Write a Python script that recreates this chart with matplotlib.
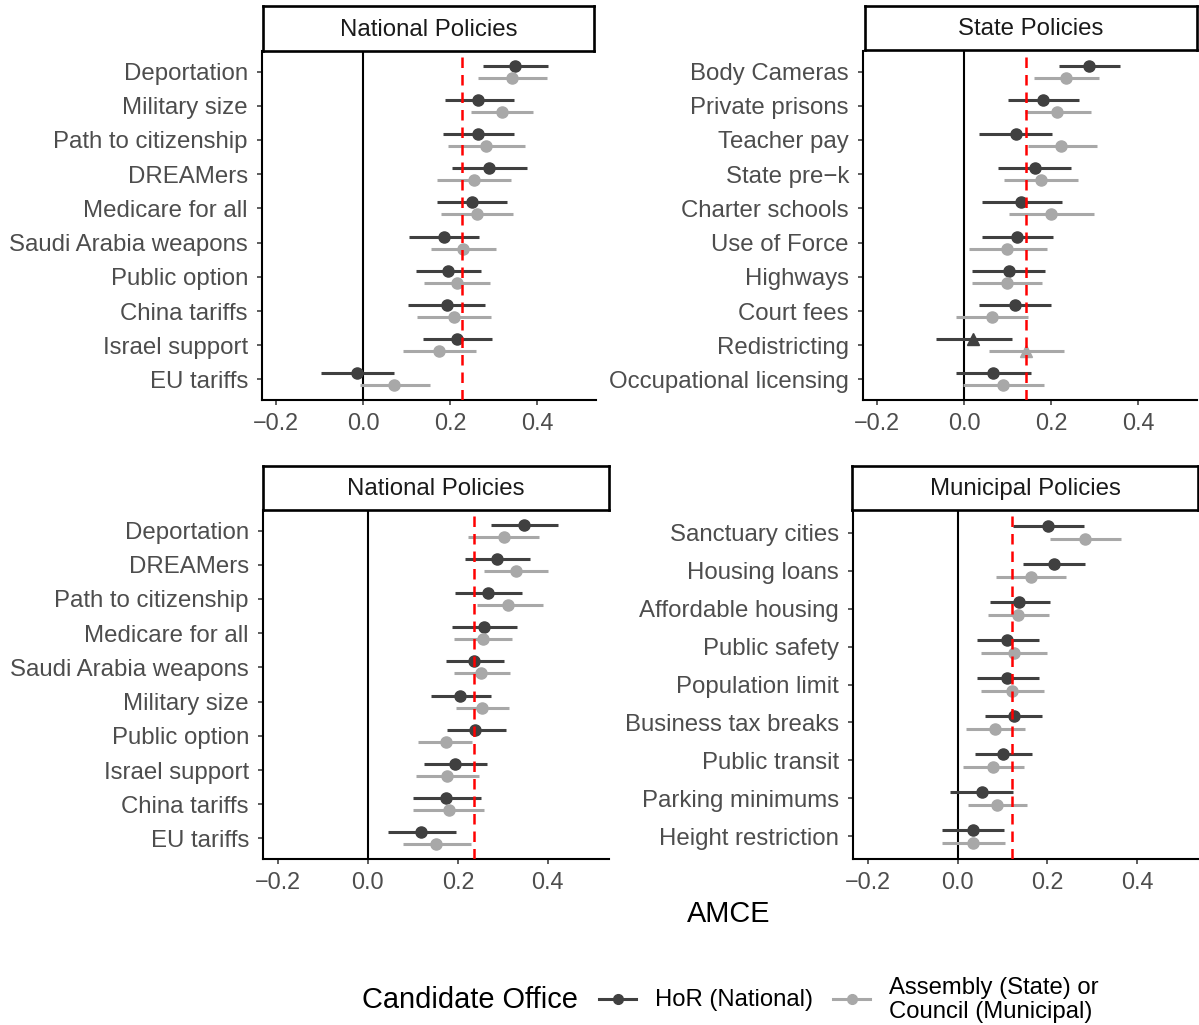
import matplotlib
matplotlib.use("Agg")
import matplotlib.pyplot as plt
from matplotlib.lines import Line2D

plt.rcParams['font.family'] = ['Liberation Sans', 'DejaVu Sans']

# ---------------------------------------------------------------- data
# National policies (experiment 1)
nat1_items = ["Deportation", "Military size", "Path to citizenship", "DREAMers",
              "Medicare for all", "Saudi Arabia weapons", "Public option",
              "China tariffs", "Israel support", "EU tariffs"]
nat1_hor = [0.349, 0.265, 0.264, 0.290, 0.250, 0.185, 0.195, 0.192, 0.215, -0.015]
nat1_hor_lo = [0.275, 0.188, 0.183, 0.204, 0.169, 0.105, 0.122, 0.102, 0.137, -0.098]
nat1_hor_hi = [0.425, 0.347, 0.347, 0.378, 0.332, 0.267, 0.271, 0.281, 0.296, 0.072]
nat1_sub = [0.342, 0.320, 0.283, 0.255, 0.261, 0.230, 0.215, 0.208, 0.175, 0.072]
nat1_sub_lo = [0.264, 0.249, 0.196, 0.171, 0.180, 0.157, 0.141, 0.125, 0.092, -0.008]
nat1_sub_hi = [0.423, 0.391, 0.372, 0.341, 0.345, 0.305, 0.292, 0.294, 0.260, 0.154]
nat1_ref = 0.227

# State policies
state_items = ["Body Cameras", "Private prisons", "Teacher pay", "State pre\u2212k",
               "Charter schools", "Use of Force", "Highways", "Court fees",
               "Redistricting", "Occupational licensing"]
state_hor = [0.287, 0.181, 0.119, 0.162, 0.131, 0.122, 0.102, 0.116, 0.020, 0.066]
state_hor_lo = [0.219, 0.100, 0.035, 0.077, 0.040, 0.040, 0.019, 0.035, -0.066, -0.019]
state_hor_hi = [0.358, 0.265, 0.203, 0.247, 0.226, 0.205, 0.186, 0.199, 0.109, 0.154]
state_sub = [0.235, 0.214, 0.222, 0.176, 0.200, 0.099, 0.099, 0.063, 0.143, 0.089]
state_sub_lo = [0.161, 0.139, 0.146, 0.091, 0.102, 0.010, 0.019, -0.018, 0.056, -0.002]
state_sub_hi = [0.310, 0.293, 0.305, 0.263, 0.300, 0.190, 0.179, 0.148, 0.229, 0.184]
state_ref = 0.143
state_triangles = ["Redistricting"]

# National policies (experiment 2)
nat2_items = ["Deportation", "DREAMers", "Path to citizenship", "Medicare for all",
              "Saudi Arabia weapons", "Military size", "Public option",
              "Israel support", "China tariffs", "EU tariffs"]
nat2_hor = [0.347, 0.288, 0.266, 0.259, 0.236, 0.205, 0.239, 0.194, 0.174, 0.119]
nat2_hor_lo = [0.273, 0.217, 0.193, 0.186, 0.173, 0.140, 0.175, 0.124, 0.100, 0.044]
nat2_hor_hi = [0.422, 0.360, 0.342, 0.332, 0.302, 0.273, 0.307, 0.265, 0.251, 0.196]
nat2_sub = [0.302, 0.330, 0.311, 0.255, 0.251, 0.254, 0.173, 0.176, 0.180, 0.152]
nat2_sub_lo = [0.223, 0.259, 0.242, 0.192, 0.191, 0.195, 0.111, 0.106, 0.101, 0.078]
nat2_sub_hi = [0.380, 0.401, 0.390, 0.321, 0.315, 0.314, 0.232, 0.246, 0.259, 0.230]
nat2_ref = 0.235

# Municipal policies
muni_items = ["Sanctuary cities", "Housing loans", "Affordable housing",
              "Public safety", "Population limit", "Business tax breaks",
              "Public transit", "Parking minimums", "Height restriction"]
muni_hor = [0.201, 0.215, 0.138, 0.111, 0.111, 0.125, 0.101, 0.055, 0.034]
muni_hor_lo = [0.123, 0.147, 0.072, 0.044, 0.044, 0.061, 0.038, -0.016, -0.035]
muni_hor_hi = [0.281, 0.284, 0.205, 0.182, 0.182, 0.189, 0.166, 0.123, 0.104]
muni_sub = [0.284, 0.163, 0.135, 0.125, 0.122, 0.083, 0.079, 0.088, 0.034]
muni_sub_lo = [0.205, 0.086, 0.067, 0.053, 0.052, 0.019, 0.013, 0.024, -0.035]
muni_sub_hi = [0.364, 0.242, 0.204, 0.199, 0.192, 0.151, 0.148, 0.154, 0.106]
muni_ref = 0.122

x_ticks = [-0.2, 0.0, 0.2, 0.4]
x_tick_labels = ["\u22120.2", "0.0", "0.2", "0.4"]
legend_labels = ["HoR (National)", "Assembly (State) or\nCouncil (Municipal)"]

# ---------------------------------------------------------------- style
W, H = 1199, 1025
DARK = '#404040'
LIGHT = '#a8a8a8'
TICK_GREY = '#4d4d4d'
XLIM = (-0.233, 0.536)
DODGE = 0.175

fig = plt.figure(figsize=(W / 100, H / 100), dpi=100)


def px_axes(x0, y0, x1, y1):
    return fig.add_axes([x0 / W, 1 - y1 / H, (x1 - x0) / W, (y1 - y0) / H])


def strip(box, title):
    sax = px_axes(*box)
    sax.set_xticks([])
    sax.set_yticks([])
    for s in sax.spines.values():
        s.set_linewidth(1.9)
        s.set_color('black')
    sax.text(0.5, 0.47, title, ha='center', va='center', fontsize=17.3,
             color='#1a1a1a', transform=sax.transAxes)


def panel(box, strip_box, title, items, hor, hor_lo, hor_hi,
          sub, sub_lo, sub_hi, ref, triangles=()):
    ax = px_axes(*box)
    n = len(items)
    ypos = [n - i for i in range(n)]
    ax.axvline(0, color='black', lw=1.5, zorder=1)
    for i, name in enumerate(items):
        mk = '^' if name in triangles else 'o'
        ms = 9 if mk == '^' else 8
        yd = ypos[i] + DODGE
        yl = ypos[i] - DODGE
        ax.hlines(yd, hor_lo[i], hor_hi[i], color=DARK, lw=2.2, zorder=3)
        ax.plot([hor[i]], [yd], marker=mk, ms=ms, color=DARK, ls='none', zorder=4)
        ax.hlines(yl, sub_lo[i], sub_hi[i], color=LIGHT, lw=2.2, zorder=3)
        ax.plot([sub[i]], [yl], marker=mk, ms=ms, color=LIGHT, ls='none', zorder=4)
    ax.axvline(ref, color='red', lw=1.8, ls=(0, (4.2, 2.8)), zorder=5)
    ax.set_xlim(*XLIM)
    ax.set_ylim(0.4, n + 0.6)
    ax.set_yticks(ypos)
    ax.set_yticklabels(items)
    ax.set_xticks(x_ticks)
    ax.set_xticklabels(x_tick_labels)
    ax.tick_params(axis='both', labelcolor=TICK_GREY,
                   color='#333333', length=3.6, width=1.1)
    ax.tick_params(axis='y', pad=6.5, labelsize=17.3)
    ax.tick_params(axis='x', pad=5, labelsize=16.8)
    for lab in ax.get_yticklabels():
        lab.set_verticalalignment('center_baseline')
    for side in ('top', 'right'):
        ax.spines[side].set_visible(False)
    for side in ('left', 'bottom'):
        ax.spines[side].set_linewidth(1.5)
        ax.spines[side].set_color('black')
    strip(strip_box, title)
    return ax


panel((262, 51, 596, 400), (263, 6, 594, 51), "National Policies",
      nat1_items, nat1_hor, nat1_hor_lo, nat1_hor_hi,
      nat1_sub, nat1_sub_lo, nat1_sub_hi, nat1_ref)
panel((863, 51, 1197, 400), (865, 6, 1197, 50), "State Policies",
      state_items, state_hor, state_hor_lo, state_hor_hi,
      state_sub, state_sub_lo, state_sub_hi, state_ref, state_triangles)
panel((263, 510, 609, 859), (263, 466, 609, 510), "National Policies",
      nat2_items, nat2_hor, nat2_hor_lo, nat2_hor_hi,
      nat2_sub, nat2_sub_lo, nat2_sub_hi, nat2_ref)
panel((853, 510, 1198, 859), (852, 466, 1198, 510), "Municipal Policies",
      muni_items, muni_hor, muni_hor_lo, muni_hor_hi,
      muni_sub, muni_sub_lo, muni_sub_hi, muni_ref)

# shared x-axis title
fig.text(729 / W, 1 - 914 / H, "AMCE", ha='center', va='center', fontsize=20.8,
         color='black')

# legend along the bottom
ly = 1 - 999 / H
fig.text(362 / W, 1 - 1000 / H, "Candidate Office", ha='left', va='center',
         fontsize=20.9, color='black')
for (x0, x1), col, label, tx in [((599, 636), DARK, legend_labels[0], 655),
                                  ((833, 870), LIGHT, legend_labels[1], 889)]:
    fig.add_artist(Line2D([x0 / W, x1 / W], [ly, ly], color=col, lw=2.2,
                          transform=fig.transFigure))
    fig.add_artist(Line2D([(x0 + x1) / 2 / W], [ly], marker='o', ms=7,
                          color=col, ls='none', transform=fig.transFigure))
    fig.text(tx / W, 1 - 1000 / H, label, ha='left', va='center',
             fontsize=17.2, color='black', linespacing=1.1)

fig.savefig("out.png", dpi=100, facecolor='white')
